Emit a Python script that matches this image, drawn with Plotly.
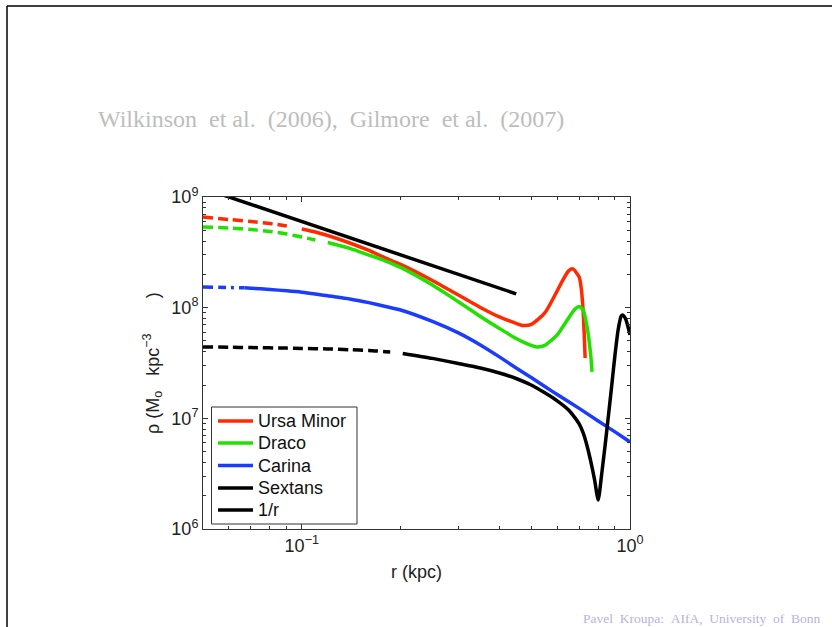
import plotly.graph_objects as go

# ---------------- data ----------------
# Ursa Minor (dashed inner part, solid outer part)
um_r_dash = [0.05, 0.06, 0.07, 0.08, 0.09]
um_rho_dash = [6.60e8, 6.26e8, 6.01e8, 5.76e8, 5.47e8]
um_r = [0.1, 0.11, 0.12, 0.14, 0.16, 0.18, 0.2, 0.25, 0.3, 0.35, 0.4, 0.45, 0.47, 0.5,
        0.55, 0.6, 0.62, 0.65, 0.67, 0.7, 0.71, 0.72, 0.73]
um_rho = [5.14e8, 4.83e8, 4.49e8, 3.84e8, 3.29e8, 2.81e8, 2.46e8, 1.76e8, 1.30e8, 1.004e8,
          8.24e7, 7.20e7, 6.91e7, 7.05e7, 8.96e7, 1.42e8, 1.71e8, 2.15e8, 2.24e8, 1.89e8,
          1.51e8, 9.15e7, 3.51e7]

# Draco
dr_r_dash = [0.05, 0.06, 0.07, 0.08, 0.09, 0.1, 0.11]
dr_rho_dash = [5.36e8, 5.25e8, 5.09e8, 4.88e8, 4.63e8, 4.35e8, 4.09e8]
dr_r = [0.12, 0.14, 0.16, 0.18, 0.2, 0.25, 0.3, 0.35, 0.4, 0.45, 0.5, 0.52, 0.55, 0.6,
        0.65, 0.68, 0.7, 0.72, 0.74, 0.75, 0.76, 0.766]
dr_rho = [3.88e8, 3.43e8, 2.99e8, 2.64e8, 2.31e8, 1.60e8, 1.13e8, 8.33e7, 6.49e7, 5.27e7,
          4.56e7, 4.42e7, 4.56e7, 5.67e7, 8.07e7, 9.73e7, 1.025e8, 9.53e7, 6.70e7, 5.11e7,
          3.59e7, 2.63e7]

# Carina
ca_r_dash = [0.05, 0.06, 0.067]
ca_rho_dash = [1.54e8, 1.52e8, 1.51e8]
ca_r = [0.067, 0.07, 0.08, 0.09, 0.1, 0.11, 0.12, 0.14, 0.16, 0.18, 0.2, 0.25, 0.3, 0.35,
        0.4, 0.45, 0.5, 0.55, 0.6, 0.7, 0.8, 0.9, 1.0]
ca_rho = [1.51e8, 1.50e8, 1.46e8, 1.42e8, 1.38e8, 1.33e8, 1.28e8, 1.20e8, 1.11e8, 1.025e8,
          9.53e7, 7.51e7, 5.91e7, 4.60e7, 3.59e7, 2.85e7, 2.34e7, 1.94e7, 1.64e7, 1.23e7,
          9.47e6, 7.54e6, 6.12e6]

# Sextans
se_r_dash = [0.05, 0.06, 0.07, 0.09, 0.1, 0.12, 0.14, 0.16, 0.18, 0.186]
se_rho_dash = [4.42e7, 4.39e7, 4.36e7, 4.31e7, 4.28e7, 4.24e7, 4.17e7, 4.11e7, 4.00e7, 3.97e7]
se_r = [0.203, 0.25, 0.3, 0.35, 0.4, 0.45, 0.5, 0.55, 0.6, 0.65, 0.68, 0.7, 0.72, 0.74, 0.76,
        0.78, 0.8, 0.82, 0.84, 0.86, 0.88, 0.9, 0.92, 0.94, 0.95, 0.97, 1.0]
se_rho = [3.86e7, 3.48e7, 3.13e7, 2.85e7, 2.57e7, 2.29e7, 2.00e7, 1.70e7, 1.44e7, 1.19e7,
          1.01e7, 8.90e6, 7.38e6, 5.63e6, 4.04e6, 2.78e6, 1.83e6, 3.15e6, 5.75e6, 1.07e7,
          2.00e7, 3.74e7, 6.29e7, 8.41e7, 8.59e7, 7.91e7, 5.67e7]

# 1/r reference line
inv_r = [0.05, 0.45]
inv_rho = [1.2e9, 1.333e8]

names = ["Ursa Minor", "Draco", "Carina", "Sextans", "1/r"]
colors = ["#ff2a00", "#22e000", "#1a3cff", "#000000", "#000000"]

x_tickvals = [0.1, 1]
x_ticktext = ["10<sup>−1</sup>", "10<sup>0</sup>"]
x_minor = [0.06, 0.07, 0.08, 0.09, 0.2, 0.3, 0.4, 0.5, 0.6, 0.7, 0.8, 0.9]
y_tickvals = [1e6, 1e7, 1e8, 1e9]
y_ticktext = ["10<sup>6</sup>", "10<sup>7</sup>", "10<sup>8</sup>", "10<sup>9</sup>"]
y_minor = [m * 10 ** e for e in (6, 7, 8) for m in range(2, 10)]

NB = "\u00a0"
title_text = NB.join(["Wilkinson", "", "et", "al.", "", "(2006),", "", "Gilmore", "", "et", "al.", "", "(2007)"])
footer_text = NB.join(["Pavel", "", "Kroupa:", "", "AIfA,", "", "University", "", "of", "", "Bonn"])
xlabel = "r (kpc)"
ylabel = "ρ" + NB + "(M<sub>o</sub>" + NB * 3 + "kpc<sup>−3</sup>" + NB * 7 + ")"

# ---------------- figure ----------------
W, H = 832, 627
L, R, T, B = 203, 630, 197, 529
LW = 3.5
SANS = "Liberation Sans, Arial, Helvetica, sans-serif"
SERIF = "Liberation Serif, Times New Roman, serif"


def px_x(p):
    return (p - L) / (R - L)


def px_y(p):
    return (B - p) / (B - T)


fig = go.Figure()

solid = [(um_r, um_rho), (dr_r, dr_rho), (ca_r, ca_rho), (se_r, se_rho), (inv_r, inv_rho)]
dashed = [(um_r_dash, um_rho_dash, "10px,5px"),
          (dr_r_dash, dr_rho_dash, "10px,5px"),
          (ca_r_dash, ca_rho_dash, "10px,5px,8px,5px,3px,5px"),
          (se_r_dash, se_rho_dash, "10px,5px")]

for i in range(5):
    x, y = solid[i]
    fig.add_trace(go.Scatter(x=x, y=y, mode="lines", name=names[i], showlegend=False,
                             line=dict(color=colors[i], width=LW, shape="spline", smoothing=0.6)))
for i in range(4):
    x, y, d = dashed[i]
    fig.add_trace(go.Scatter(x=x, y=y, mode="lines", name=names[i] + " (inner)", showlegend=False,
                             line=dict(color=colors[i], width=LW, dash=d, shape="spline", smoothing=0.6)))

axis_common = dict(type="log", showgrid=False, zeroline=False, showline=True, linecolor="#333333",
                   linewidth=1, mirror="allticks", ticks="inside", ticklen=5, tickcolor="#333333",
                   tickmode="array",
                   tickfont=dict(family=SANS, size=18, color="#222222"))

fig.update_xaxes(range=[-1.30103, 0], tickvals=x_tickvals, ticktext=x_ticktext,
                 minor=dict(tickmode="array", tickvals=x_minor, ticks="inside", ticklen=3,
                            tickcolor="#333333", showgrid=False),
                 **axis_common)
fig.update_yaxes(range=[6, 9], tickvals=y_tickvals, ticktext=y_ticktext,
                 minor=dict(tickmode="array", tickvals=y_minor, ticks="inside", ticklen=3,
                            tickcolor="#333333", showgrid=False),
                 **axis_common)

annotations = [
    dict(text=title_text, xref="paper", yref="paper", x=px_x(96), y=px_y(119),
         xanchor="left", yanchor="middle", showarrow=False,
         font=dict(family=SERIF, size=24, color="#bdbdbd")),
    dict(text=footer_text, xref="paper", yref="paper", x=px_x(581), y=px_y(618),
         xanchor="left", yanchor="middle", showarrow=False,
         font=dict(family=SERIF, size=13.5, color="#b4b4dc")),
    dict(text=xlabel, xref="paper", yref="paper", x=px_x(416), y=px_y(572),
         xanchor="center", yanchor="middle", showarrow=False,
         font=dict(family=SANS, size=18, color="#222222")),
    dict(text=ylabel, xref="paper", yref="paper", x=px_x(152), y=px_y(363),
         xanchor="center", yanchor="middle", showarrow=False, textangle=-90,
         font=dict(family=SANS, size=18, color="#222222")),
]

shapes = [
    dict(type="line", xref="paper", yref="paper", x0=px_x(7), x1=px_x(832), y0=px_y(6), y1=px_y(6),
         line=dict(color="black", width=1.5)),
    dict(type="line", xref="paper", yref="paper", x0=px_x(7), x1=px_x(7), y0=px_y(6), y1=px_y(627),
         line=dict(color="black", width=1.5)),
    # legend box
    dict(type="rect", xref="paper", yref="paper", x0=px_x(211.5), x1=px_x(357), y0=px_y(407),
         y1=px_y(524), line=dict(color="#333333", width=1), fillcolor="white", layer="above"),
]

row_y = [421, 443, 465.5, 488, 510]
for i in range(5):
    shapes.append(dict(type="line", xref="paper", yref="paper", x0=px_x(218), x1=px_x(253),
                       y0=px_y(row_y[i]), y1=px_y(row_y[i]), layer="above",
                       line=dict(color=colors[i], width=LW)))
    annotations.append(dict(text=names[i], xref="paper", yref="paper", x=px_x(256), y=px_y(row_y[i]),
                            xanchor="left", yanchor="middle", showarrow=False,
                            font=dict(family=SANS, size=18, color="#111111")))

fig.update_layout(
    width=W, height=H,
    margin=dict(l=L, r=W - R, t=T, b=H - B, pad=0),
    paper_bgcolor="white", plot_bgcolor="white",
    showlegend=False,
    annotations=annotations,
    shapes=shapes,
)

fig.write_html("out.html")
